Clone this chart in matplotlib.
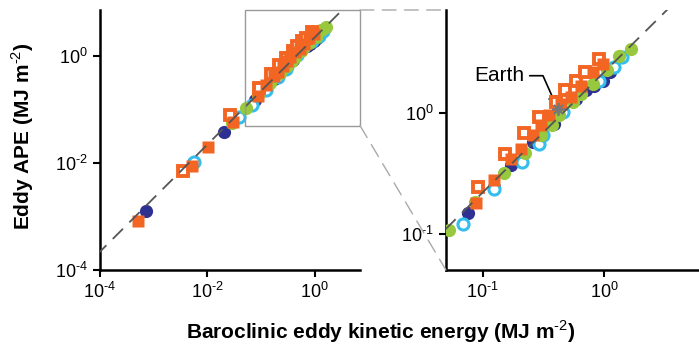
import numpy as np
import matplotlib
matplotlib.use("Agg")
import matplotlib.pyplot as plt
from matplotlib.patches import Rectangle, ConnectionPatch

plt.rcParams['font.family'] = ['Liberation Sans', 'DejaVu Sans']
plt.rcParams['mathtext.fontset'] = 'custom'
plt.rcParams['mathtext.rm'] = 'Liberation Sans'
plt.rcParams['mathtext.bf'] = 'Liberation Sans:bold'

# data (MJ m-2)
navy_x = [7.2e-4, 5.4e-3, 0.0204, 0.076, 0.124, 0.172, 0.258, 0.389, 0.586, 0.708, 0.83, 0.97, 1.12]
navy_y = [1.28e-3, 0.010, 0.038, 0.148, 0.243, 0.372, 0.58, 0.82, 1.32, 1.55, 1.70, 1.87, 2.20]

lblue_x = [5.6e-3, 0.039, 0.069, 0.125, 0.211, 0.29, 0.312, 0.46, 0.91, 1.20, 1.41]
lblue_y = [0.0105, 0.072, 0.121, 0.234, 0.396, 0.56, 0.66, 1.03, 1.87, 2.40, 2.92]

green_x = [0.029, 0.053, 0.087, 0.149, 0.224, 0.303, 0.372, 0.428, 0.55, 0.644, 0.80, 1.06, 1.33, 1.66]
green_y = [0.056, 0.108, 0.185, 0.318, 0.47, 0.658, 0.796, 0.96, 1.24, 1.45, 1.76, 2.27, 3.0, 3.43]

orf_x = [5.1e-4, 5.2e-3, 0.0102, 0.030, 0.089, 0.125, 0.172, 0.207, 0.258, 0.303, 0.354, 0.44, 0.533, 0.644, 0.80, 0.97]
orf_y = [8.3e-4, 8.9e-3, 0.020, 0.059, 0.18, 0.28, 0.42, 0.51, 0.66, 0.796, 0.96, 1.2, 1.36, 1.70, 2.19, 2.57]

oro_x = [3.5e-3, 0.026, 0.092, 0.152, 0.217, 0.293, 0.40, 0.479, 0.586, 0.70, 0.91]
oro_y = [7.2e-3, 0.079, 0.246, 0.458, 0.68, 0.93, 1.24, 1.55, 1.87, 2.19, 2.83]

earth_x, earth_y = 0.414, 1.09
ratio = 2.2   # dashed reference line y = ratio * x

left_ticks = [1e-4, 1e-2, 1e0]
left_labels = ['-4', '-2', '0']
right_ticks = [0.1, 1]
right_labels = ['-1', '0']

navy = '#2E3192'
lblue = '#35BDEB'
green = '#97C83D'
orange = '#F26522'

fig = plt.figure(figsize=(6.99, 3.44), dpi=100)
ax1 = fig.add_axes([0.143, 0.215, 0.372, 0.756])
ax2 = fig.add_axes([0.638, 0.215, 0.362, 0.756])


def draw(ax, ms):
    ax.plot(navy_x, navy_y, 'o', color=navy, ms=ms, mec='none', zorder=3)
    ax.plot(lblue_x, lblue_y, 'o', mfc='white', mec=lblue, mew=2.2, ms=ms - 1.5, zorder=3)
    ax.plot(green_x, green_y, 'o', color=green, ms=ms, mec='none', zorder=3)
    ax.plot(oro_x, oro_y, 's', mfc='white', mec=orange, mew=2.8, ms=ms - 2, zorder=4)
    ax.plot(orf_x, orf_y, 's', color=orange, ms=ms - 0.5, mec='none', zorder=5)
    xx = np.array([1e-5, 100])
    ax.plot(xx, ratio * xx, color='#555555', lw=1.3, dashes=(8, 5), zorder=6)
    ax.set_xscale('log')
    ax.set_yscale('log')
    for s in ['top', 'right']:
        ax.spines[s].set_visible(False)
    for s in ['left', 'bottom']:
        ax.spines[s].set_linewidth(1.8)
    ax.tick_params(which='major', length=5, width=1.5, direction='out', labelsize=13)
    ax.minorticks_off()


def set_ticks(ax, ticks, labels):
    lab = [r'$\mathdefault{10^{\text{%s}}}$' % s for s in labels]
    ax.set_xticks(ticks)
    ax.set_xticklabels(lab)
    ax.set_yticks(ticks)
    ax.set_yticklabels(lab)
    ax.minorticks_off()


draw(ax1, 9.5)
ax1.set_xlim(1e-4, 7)
ax1.set_ylim(1e-4, 7.2)
set_ticks(ax1, left_ticks, left_labels)
ax1.add_patch(Rectangle((0.05, 0.05), 7 - 0.05, 7.2 - 0.05, fill=False,
                        ec='#999999', lw=1.0, zorder=7, clip_on=False))

draw(ax2, 9.5)
ax2.plot([earth_x], [earth_y], marker=(8, 2, 0), color='#777777', ms=9, mew=1.3, zorder=8)
ax2.set_xlim(0.05, 6)
ax2.set_ylim(0.05, 7.2)
set_ticks(ax2, right_ticks, right_labels)
ax2.annotate('Earth', xy=(earth_x, earth_y), xytext=(0.085, 2.05),
             fontsize=15, ha='left', va='center',
             arrowprops=dict(arrowstyle='-|>', color='black', lw=1.2,
                             shrinkA=2, shrinkB=2, mutation_scale=14,
                             connectionstyle='angle,angleA=0,angleB=114,rad=0'))

# zoom connectors
con1 = ConnectionPatch(xyA=(1, 1), coordsA=ax1.transAxes, xyB=(0, 1), coordsB=ax2.transAxes,
                       color='#aaaaaa', lw=1.0, linestyle=(0, (10, 6)))
con2 = ConnectionPatch(xyA=(1, 0.05), coordsA=ax1.get_yaxis_transform(), xyB=(0, 0),
                       coordsB=ax2.transAxes, color='#aaaaaa', lw=1.0, linestyle=(0, (10, 6)))
fig.add_artist(con1)
fig.add_artist(con2)

fig.text(0.545, 0.035, r'Baroclinic eddy kinetic energy (MJ m$^{\text{-2}}$)',
         ha='center', va='center', fontsize=15, fontweight='bold')
fig.text(0.033, 0.605, r'Eddy APE (MJ m$^{\text{-2}}$)', rotation=90,
         ha='center', va='center', fontsize=15, fontweight='bold')

fig.savefig('out.png', dpi=100)
